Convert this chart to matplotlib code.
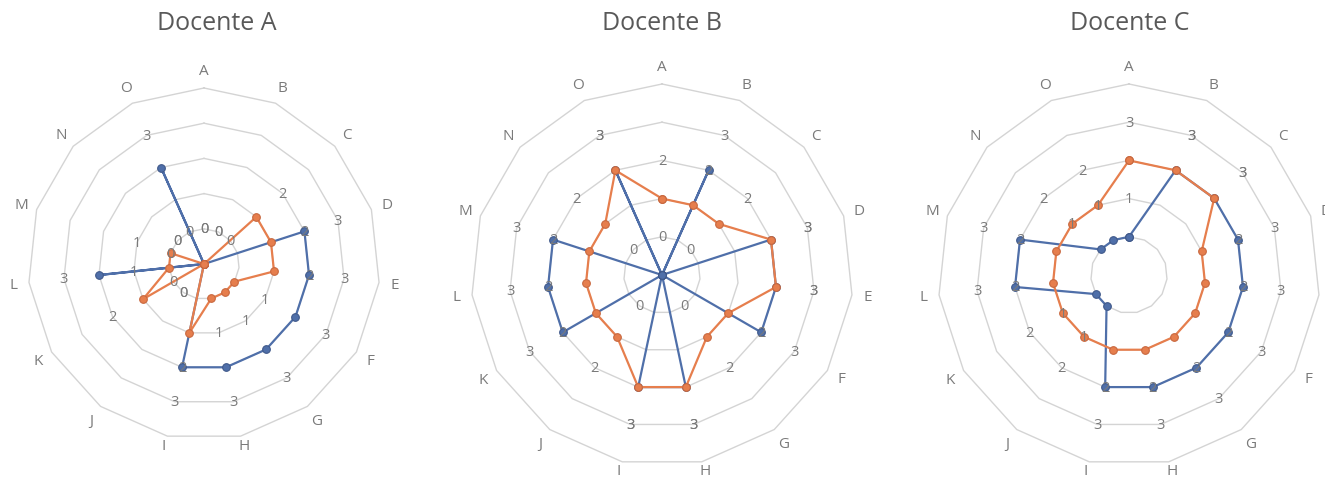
import numpy as np
import matplotlib
matplotlib.use("Agg")
import matplotlib.pyplot as plt

plt.rcParams['font.family'] = ['Open Sans', 'DejaVu Sans']

# categories and values
categories = list("ABCDEFGHIJKLMNO")
titles = ["Docente A", "Docente B", "Docente C"]

docente_a_blue = [0, 0, 0, 3, 3, 3, 3, 3, 3, 0, 0, 3, 0, 0, 3]
docente_a_orange = [0, 0, 2, 2, 2, 1, 1, 1, 2, 0, 2, 1, 1, 0, 0]
docente_b_blue = [0, 3, 0, 3, 3, 3, 0, 3, 3, 0, 3, 3, 3, 0, 3]
docente_b_orange = [2, 2, 2, 3, 3, 2, 2, 3, 3, 2, 2, 2, 2, 2, 3]
docente_c_blue = [1, 3, 3, 3, 3, 3, 3, 3, 3, 1, 1, 3, 3, 1, 1]
docente_c_orange = [3, 3, 3, 2, 2, 2, 2, 2, 2, 2, 2, 2, 2, 2, 2]

r_max = 5
rings = [1, 2, 3, 4, 5]

BLUE = '#4f6fa9'
BLUE_EDGE = '#40598a'
ORANGE = '#e67e4d'
ORANGE_EDGE = '#c8683f'
GRID = '#d4d4d4'
TEXT = '#595959'
LABEL = '#7a7a7a'

W, H = 1325, 481
fig = plt.figure(figsize=(W / 100, H / 100), dpi=100)

# (center x, center y from top, radius) in pixels for each radar
layout = [(204, 265, 176), (662, 276, 191), (1129, 276, 191)]
title_pos = [(217, 24), (662, 24), (1130, 24)]
series = [(docente_a_blue, docente_a_orange),
          (docente_b_blue, docente_b_orange),
          (docente_c_blue, docente_c_orange)]

n = len(categories)
theta = np.linspace(0, 2 * np.pi, n, endpoint=False)
theta_c = np.append(theta, theta[0])

for k in range(3):
    cx, cy, rad = layout[k]
    ax = fig.add_axes([(cx - rad) / W, (H - cy - rad) / H, 2 * rad / W, 2 * rad / H],
                      projection='polar')
    ax.set_theta_zero_location('N')
    ax.set_theta_direction(-1)
    ax.set_ylim(0, r_max)
    ax.grid(False)
    ax.set_xticks([])
    ax.set_yticks([])
    ax.spines['polar'].set_visible(False)
    ax.patch.set_alpha(0)

    # polygon gridlines
    for r in rings:
        ax.plot(theta_c, [r] * (n + 1), color=GRID, lw=1.0, zorder=1, clip_on=False)

    blue, orange = series[k]
    for vals, col, ecol in [(blue, BLUE, BLUE_EDGE), (orange, ORANGE, ORANGE_EDGE)]:
        v = np.append(vals, vals[0])
        ax.plot(theta_c, v, color=col, lw=1.6, marker='o', ms=5.5,
                mfc=col, mec=ecol, mew=0.8, zorder=3, clip_on=False)

    # data labels (placed one ring outside the point)
    for vals in (blue, orange):
        for i, val in enumerate(vals):
            ax.text(theta[i], val + 1, str(val), ha='center', va='center',
                    fontsize=10.5, color=LABEL, zorder=4)

    # category labels just outside the outer ring
    for i, c in enumerate(categories):
        dx = 16 * np.sin(theta[i])
        dy = 17 * np.cos(theta[i])
        if abs(np.sin(theta[i])) < 0.3 and dy < 0:
            dy = -9
        ax.annotate(c, xy=(theta[i], r_max), xytext=(dx, dy),
                    textcoords='offset pixels', ha='center', va='center',
                    fontsize=11, color=LABEL, annotation_clip=False)

    tx, ty = title_pos[k]
    fig.text(tx / W, 1 - ty / H, titles[k], ha='center', va='center',
             fontsize=18, color=TEXT)

fig.savefig('out.png', dpi=100, facecolor='white')
